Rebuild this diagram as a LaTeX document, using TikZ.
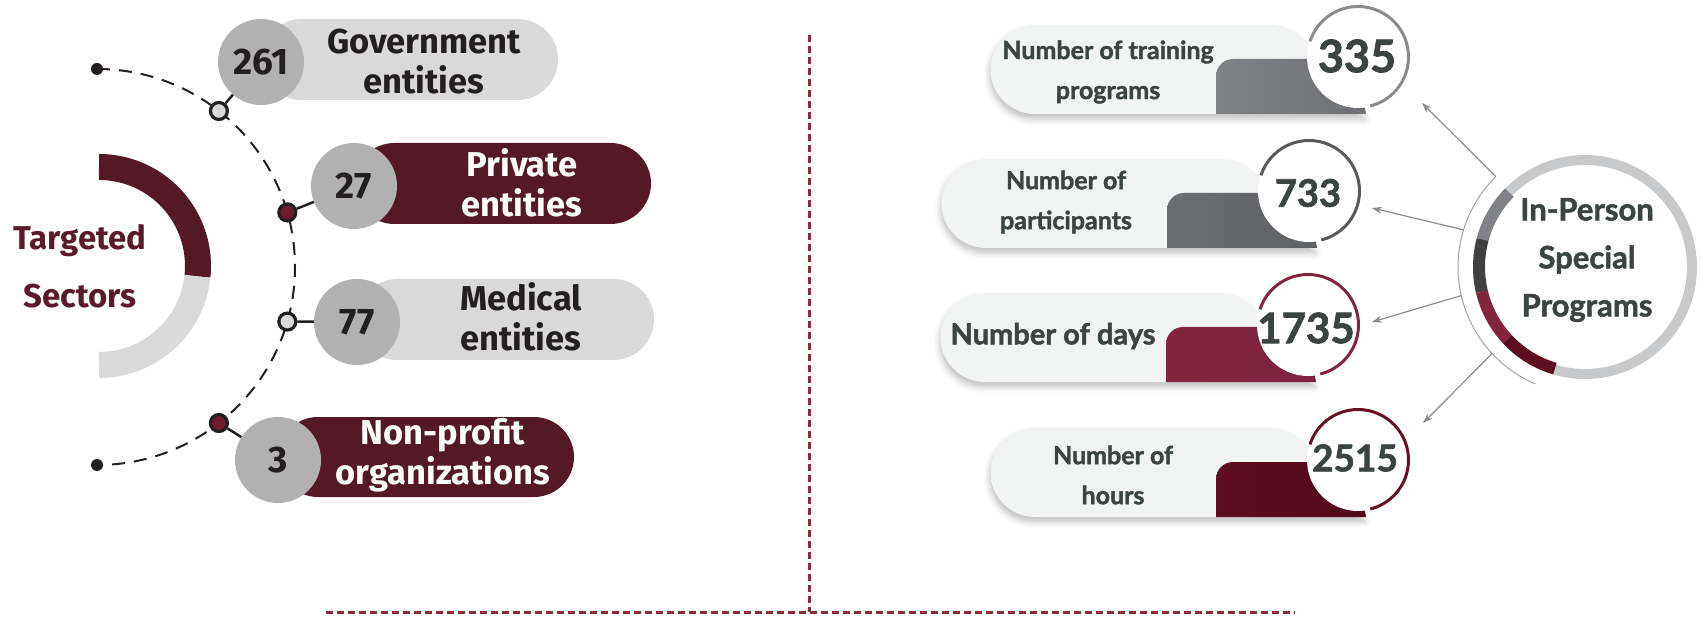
\documentclass[tikz,border=0pt]{standalone}
\usepackage{fontspec}
\setmainfont{Fira Sans}
\newfontfamily\lato{Lato}[BoldFeatures={FakeBold=1.6}]
\usetikzlibrary{arrows.meta,shadows.blur}
\definecolor{maroon}{HTML}{541827}
\definecolor{dotred}{HTML}{6E1B2D}
\definecolor{titlered}{HTML}{5B1A2B}
\definecolor{pillgray}{HTML}{D9D9D9}
\definecolor{numgray}{HTML}{B1B1B1}
\definecolor{ink}{HTML}{231F20}
\definecolor{slate}{HTML}{3C4343}
\definecolor{cardbg}{HTML}{F2F4F3}
\definecolor{sepred}{HTML}{8E2B37}
\definecolor{arrowgray}{HTML}{8C8C8C}
\definecolor{ringgray}{HTML}{C8C9CB}
\definecolor{gA}{HTML}{808285}
\definecolor{gAd}{HTML}{6F7073}
\definecolor{gB}{HTML}{6D6E71}
\definecolor{gBd}{HTML}{5F6063}
\definecolor{gDark}{HTML}{404040}
\definecolor{mA}{HTML}{84253F}
\definecolor{mAd}{HTML}{7A2340}
\definecolor{mB}{HTML}{5E0C1F}
\definecolor{mBd}{HTML}{4F0A1A}
\definecolor{ringA}{HTML}{8A8B8D}
\definecolor{ringB}{HTML}{58595B}
\definecolor{ringD}{HTML}{6A0E22}

\tikzset{
  numdisc/.style={circle, fill=numgray, minimum size=86pt, inner sep=0pt,
    font=\bfseries\fontsize{37}{37}\selectfont, text=ink},
  pilltext/.style={align=center, font=\bfseries\fontsize{34.5}{40}\selectfont},
  opendot/.style={circle, draw=ink, line width=3.2pt, fill=pillgray, minimum size=17pt, inner sep=0pt},
  reddot/.style={circle, draw=ink, line width=3.2pt, fill=dotred, minimum size=17pt, inner sep=0pt},
  enddot/.style={circle, fill=ink, minimum size=12pt, inner sep=0pt},
  stub/.style={draw=ink, line width=2.5pt},
  dasharc/.style={draw=ink, line width=2pt, dash pattern=on 13pt off 9pt},
  sepline/.style={draw=sepred, line width=3pt, dash pattern=on 7pt off 4pt},
  cardtext/.style={align=center, text=slate, font=\lato\bfseries\fontsize{25}{40}\selectfont},
  numtext/.style={text=slate, inner sep=0pt},
  feed/.style={draw=arrowgray, line width=1.2pt, -{Stealth[length=10pt,width=7pt]}},
  disc/.style={circle, fill=white, minimum size=102pt, inner sep=0pt},
}

\newcommand\statcard[6]{%
  \begin{scope}[shift={(#1,#2)}]
    \path[fill=cardbg, blur shadow={shadow xshift=-1pt, shadow yshift=-5pt, shadow blur radius=6pt, shadow opacity=25}]
      (-323,32) -- (-90,32) .. controls (-72,32) and (-62,26) .. (-50,14)
      -- (8,-57) -- (-323,-57) arc[start angle=270, end angle=90, radius=44.5] -- cycle;
    \path[left color=#3, right color=#4] (-142,-57) -- (-142,-19)
      arc[start angle=180, end angle=90, radius=17] -- (-2,-2) -- (8,-57) -- cycle;
    \node[disc] (#6) at (0,0) {};
    \draw[#5, line width=3pt] (162:50.5) arc[start angle=162, end angle=-76, radius=50.5];
  \end{scope}}

\begin{document}
\begin{tikzpicture}[x=1pt, y=1pt]
\useasboundingbox (0,0) rectangle (1702,-617);

% ---------------- left half ----------------
\coordinate (C) at (97,-267);
% Targeted Sectors ring
\draw[maroon, line width=26pt] (99,-266) ++(90:99) arc[start angle=90, end angle=-6, radius=99];
\draw[pillgray, line width=26pt] (99,-266) ++(-6:99) arc[start angle=-6, end angle=-90, radius=99];
\node[align=center, text=titlered, font=\bfseries\fontsize{33}{58}\selectfont] (title) at (80,-266) {Targeted\\Sectors};

% dashed arc
\draw[dasharc] (C) ++(90:198) arc[start angle=90, end angle=-90, radius=198];
\path (C) ++(90:198) node[enddot] (e1) {};
\path (C) ++(-90:198) node[enddot] (e2) {};
\path (C) ++(52:198) node[opendot] (d1) {};
\path (C) ++(16:198) node[reddot] (d2) {};
\path (C) ++(-16:198) node[opendot] (d3) {};
\path (C) ++(-52:198) node[reddot] (d4) {};

% pills
\fill[pillgray, rounded corners=40.5pt] (261,-19) rectangle (558,-100);
\fill[maroon, rounded corners=40.5pt] (354,-143) rectangle (651,-224);
\fill[pillgray, rounded corners=40.5pt] (357,-279) rectangle (654,-360);
\fill[maroon, rounded corners=40pt] (278,-417) rectangle (574,-497);

\node[numdisc] (n1) at (261,-62) {261};
\node[numdisc] (n2) at (354,-186) {27};
\node[numdisc] (n3) at (357,-322) {77};
\node[numdisc] (n4) at (278,-460) {3};

\node[pilltext, text=ink] (l1) at (424,-62) {Government\\entities};
\node[pilltext, text=white] (l2) at (522,-182.5) {Private\\entities};
\node[pilltext, text=ink] (l3) at (521,-317) {Medical\\entities};
\node[pilltext, text=white] (l4) at (443,-455) {Non-profit\\organizations};

\draw[stub] (d1) -- (n1);
\draw[stub] (d2) -- (n2);
\draw[stub] (d3) -- (n3);
\draw[stub] (d4) -- (n4);

% ---------------- separators ----------------
\coordinate (vt) at (809,-35);
\coordinate (vb) at (809,-612);
\coordinate (hl) at (326,-612);
\coordinate (hr) at (1295,-612);
\draw[sepline] (vt) -- (vb);
\draw[sepline] (hl) -- (hr);

% ---------------- right half ----------------
\statcard{1358}{-57}{gA}{gAd}{ringA}{c1}
\statcard{1309}{-191}{gB}{gBd}{ringB}{c2}
\statcard{1308}{-325}{mA}{mAd}{mA}{c3}
\statcard{1358}{-460}{mB}{mBd}{ringD}{c4}

\node[numtext, font=\lato\bfseries\fontsize{45}{45}\selectfont] at (1357,-56) {335};
\node[numtext, font=\lato\bfseries\fontsize{38}{38}\selectfont] at (1308,-193) {733};
\node[numtext, font=\lato\bfseries\fontsize{42}{42}\selectfont] at (1306,-328) {1735};
\node[numtext, font=\lato\bfseries\fontsize{37}{37}\selectfont] at (1355,-458) {2515};

\node[cardtext] (k1) at (1108,-72) {Number of training\\programs};
\node[cardtext] (k2) at (1066,-202) {Number of\\participants};
\node[cardtext, font=\lato\bfseries\fontsize{29}{29}\selectfont] (k3) at (1053,-336) {Number of days};
\node[cardtext] (k4) at (1113,-475) {Number of\\hours};

% central circle
\coordinate (B) at (1585,-267);
\draw[ringgray, line width=10pt] (B) circle[radius=107];
\draw[gA, line width=12pt] (B) ++(135.5:106) arc[start angle=135.5, end angle=165, radius=106];
\draw[gDark, line width=12pt] (B) ++(165:106) arc[start angle=165, end angle=193.5, radius=106];
\draw[mA, line width=12pt] (B) ++(193.5:106) arc[start angle=193.5, end angle=223, radius=106];
\draw[mB, line width=12pt] (B) ++(223:106) arc[start angle=223, end angle=253.5, radius=106];
\draw[arrowgray!80, line width=1pt] (B) ++(134.6:127) arc[start angle=134.6, end angle=247, radius=127];
\node[align=center, text=slate, font=\lato\bfseries\fontsize{31}{48}\selectfont] (hub) at (1587,-260) {In-Person\\Special\\Programs};

\path (B) ++(134.6:127) coordinate (s1);
\path (B) ++(163:127) coordinate (s2);
\path (B) ++(193:127) coordinate (s3);
\path (B) ++(223:127) coordinate (s4);
\coordinate (t1) at (1422,-103);
\coordinate (t2) at (1372,-208);
\coordinate (t3) at (1372,-322);
\coordinate (t4) at (1423,-423);
\draw[feed] (s1) -- (t1);
\draw[feed] (s2) -- (t2);
\draw[feed] (s3) -- (t3);
\draw[feed] (s4) -- (t4);
\end{tikzpicture}
\end{document}
